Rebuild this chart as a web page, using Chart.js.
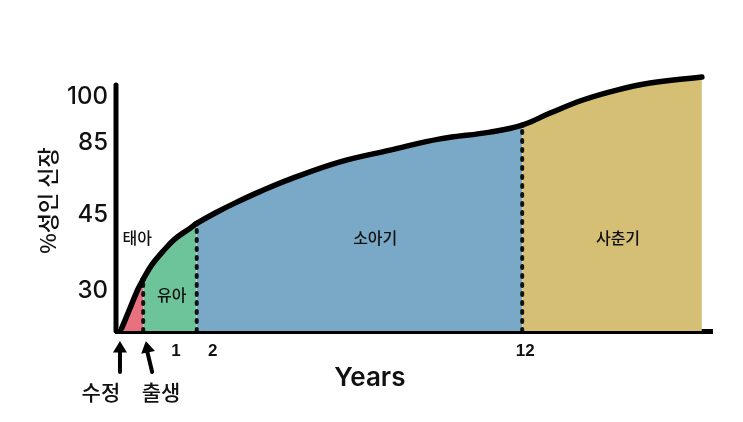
<!DOCTYPE html>
<html>
<head>
<meta charset="utf-8">
<script src="https://cdn.jsdelivr.net/npm/chart.js@4.4.1/dist/chart.umd.min.js"></script>
<style>
  html, body { margin: 0; background: #fff; }
</style>
</head>
<body>
<canvas id="growthChart" width="743" height="422"></canvas>
<script>
// schematic chart: x = position along the age axis (0-100), y = position along the height axis (0-100)
const curveX = [0.8, 2.2, 3.5, 4.4, 5.9, 7.6, 9.7, 12.3, 13.4, 16.5, 19.8, 24.0, 29.1, 37.5, 45.9, 54.3, 62.7, 68.1, 72.8, 78.3, 84.0, 89.6, 98.3];
const curveY = [1.1, 8.8, 15.9, 19.8, 25.5, 30.2, 35.2, 39.4, 41.2, 45.2, 49.0, 53.4, 58.2, 64.8, 69.3, 73.6, 76.2, 78.9, 83.5, 88.5, 92.3, 95.0, 97.3];

// stages
const stageNames = ['태아', '유아', '소아기', '사춘기'];
const stageEnds = [4.4, 13.4, 68.1, 98.3];
const stageColors = ['#e8707f', '#6dc49a', '#79a9c7', '#d5bf74'];
const stageLabelX = [3.4, 9.2, 43.4, 84.2];
const stageLabelY = [35.6, 13.8, 35.6, 35.6];

// ticks
const xTickPos = [9.9, 16.1, 68.6];
const xTickText = ['1', '2', '12'];
const yTickPos = [15.3, 44.4, 72.0, 89.6];
const yTickText = ['30', '45', '85', '100'];
const yAxisTop = 94.3;
const xTitleAt = 42.5;

// events under the axis
const eventNames = ['수정', '출생'];
const eventPos = [0.5, 4.9];
const eventLabelX = [-2.7, 7.4];

function yAt(xv) {
  return curveY[curveX.indexOf(xv)];
}

function stageColor(xv) {
  for (let i = 0; i < stageEnds.length; i++) {
    if (xv < stageEnds[i]) return stageColors[i];
  }
  return stageColors[stageColors.length - 1];
}

const datasets = [];

// curve + coloured area under it
datasets.push({
  data: curveX.map((v, i) => ({ x: v, y: curveY[i] })),
  borderColor: '#000',
  borderWidth: 5.5,
  borderCapStyle: 'round',
  borderJoinStyle: 'round',
  tension: 0.4,
  pointRadius: 0,
  fill: 'origin',
  backgroundColor: stageColors[0],
  segment: {
    backgroundColor: (c) => stageColor(c.p0.parsed.x)
  },
  order: 0
});

// dashed dividers between stages
for (let i = 0; i < stageEnds.length - 1; i++) {
  datasets.push({
    data: [{ x: stageEnds[i], y: 0 }, { x: stageEnds[i], y: yAt(stageEnds[i]) }],
    borderColor: '#111',
    borderWidth: 4,
    borderDash: [2, 7],
    borderCapStyle: 'round',
    pointRadius: 0,
    fill: false,
    order: 1
  });
}

const annotate = {
  id: 'annotate',
  afterDraw(chart) {
    const { ctx, scales: { x, y } } = chart;
    ctx.save();

    // y axis line
    ctx.strokeStyle = '#000';
    ctx.lineWidth = 5;
    ctx.lineCap = 'round';
    ctx.beginPath();
    ctx.moveTo(x.getPixelForValue(0) - 1, y.getPixelForValue(yAxisTop));
    ctx.lineTo(x.getPixelForValue(0) - 1, y.getPixelForValue(0));
    ctx.stroke();

    // stage names
    ctx.fillStyle = '#111';
    ctx.font = '500 16px "Noto Sans CJK KR"';
    ctx.textAlign = 'center';
    ctx.textBaseline = 'middle';
    stageNames.forEach((name, i) => {
      ctx.fillText(name, x.getPixelForValue(stageLabelX[i]), y.getPixelForValue(stageLabelY[i]));
    });

    const base = y.getPixelForValue(0);

    // x axis title
    ctx.font = '600 26px Inter';
    ctx.fillText('Years', x.getPixelForValue(xTitleAt), base + 47);

    // arrows for conception and birth
    eventPos.forEach((p, i) => {
      const tx = x.getPixelForValue(p);
      const bx = tx + i * 6;
      const ty = base + 12;
      const by = base + 41;
      ctx.lineWidth = 4;
      ctx.beginPath();
      ctx.moveTo(bx, by);
      ctx.lineTo(tx, ty + 4);
      ctx.stroke();
      const ang = Math.atan2(ty - by, tx - bx);
      ctx.beginPath();
      ctx.moveTo(tx, ty);
      ctx.lineTo(tx - 10 * Math.cos(ang - 0.55), ty - 10 * Math.sin(ang - 0.55));
      ctx.lineTo(tx - 10 * Math.cos(ang + 0.55), ty - 10 * Math.sin(ang + 0.55));
      ctx.closePath();
      ctx.fillStyle = '#000';
      ctx.fill();
      ctx.lineWidth = 2;
      ctx.stroke();
    });

    ctx.fillStyle = '#111';
    ctx.font = '500 21px "Noto Sans CJK KR"';
    eventNames.forEach((name, i) => {
      ctx.fillText(name, x.getPixelForValue(eventLabelX[i]), base + 61);
    });

    ctx.restore();
  }
};

new Chart(document.getElementById('growthChart'), {
  type: 'line',
  data: { datasets: datasets },
  plugins: [annotate],
  options: {
    responsive: false,
    devicePixelRatio: 1,
    animation: false,
    layout: { padding: { top: 70, right: 31, left: 0, bottom: 0 } },
    plugins: {
      legend: { display: false },
      tooltip: { enabled: false },
      filler: { drawTime: 'beforeDatasetsDraw' }
    },
    scales: {
      x: {
        type: 'linear',
        min: 0,
        max: 100,
        z: 1,
        grid: { display: false, drawTicks: false },
        border: { display: true, color: '#000', width: 5 },
        afterFit: (s) => { s.height = 91; },
        afterBuildTicks: (s) => { s.ticks = xTickPos.map(v => ({ value: v })); },
        ticks: {
          padding: 10,
          color: '#111',
          font: { family: 'Liberation Sans', size: 17, weight: 'bold' },
          callback: (v) => xTickText[xTickPos.indexOf(v)]
        }
      },
      y: {
        type: 'linear',
        min: 0,
        max: 100,
        grid: { display: false, drawTicks: false },
        border: { display: false },
        afterFit: (s) => { s.width = 117; },
        afterBuildTicks: (s) => { s.ticks = yTickPos.map(v => ({ value: v })); },
        ticks: {
          padding: 9,
          color: '#111',
          font: { family: 'Inter', size: 24, weight: '500' },
          callback: (v) => yTickText[yTickPos.indexOf(v)]
        },
        title: {
          display: true,
          text: '%성인 신장',
          color: '#111',
          font: { family: 'Noto Sans CJK KR', size: 22, weight: '500' },
          padding: { top: 34, bottom: 0 }
        }
      }
    }
  }
});
</script>
</body>
</html>
